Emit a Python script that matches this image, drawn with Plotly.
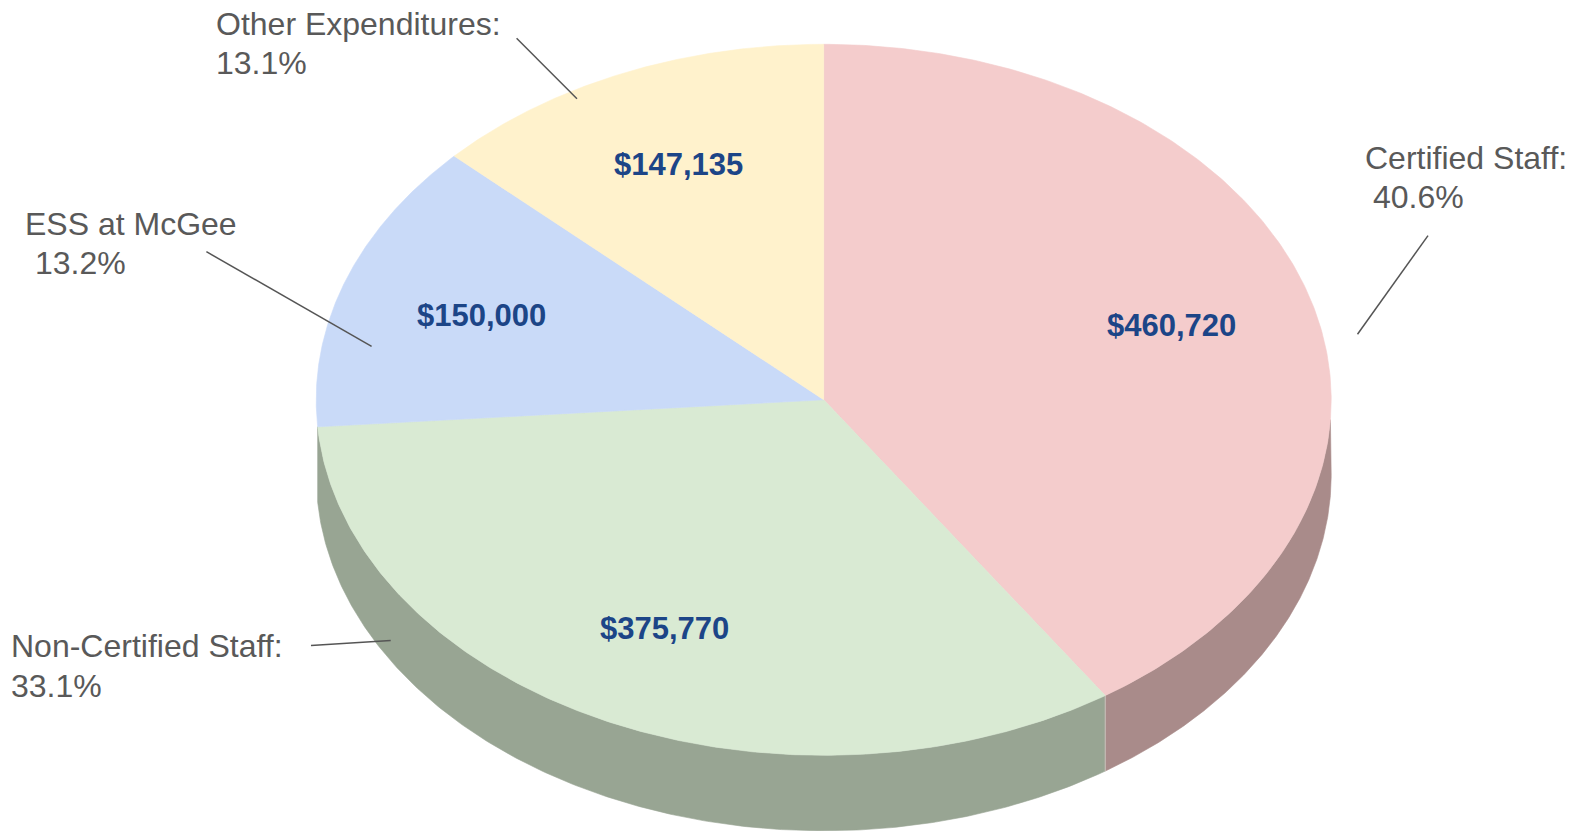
import numpy as np
import plotly.graph_objects as go

categories = ["Certified Staff", "Non-Certified Staff", "ESS at McGee", "Other Expenditures"]
values = [460720, 375770, 150000, 147135]
value_labels = ["$460,720", "$375,770", "$150,000", "$147,135"]
label_lines = [["Certified Staff:", " 40.6%"], ["Non-Certified Staff:", "33.1%"],
               ["ESS at McGee", " 13.2%"], ["Other Expenditures:", "13.1%"]]
top_colors = ["#F4CCCC", "#D9EAD3", "#C9DAF8", "#FFF2CC"]
side_colors = ["#A98B8A", "#98A593", None, None]

W, H = 1579, 831
CX, CY, RX, RY, DEPTH = 823.7, 399.8, 507.5, 355.5, 75.5
WALL_START = np.pi / 2 + 0.056
value_pos = [(1171, 325.5), (664, 628.5), (481.5, 315), (678, 164)]
label_pos = [[(1363, 158), (1371, 197)], [(8.5, 645.5), (8.5, 685.5)],
             [(22.5, 223.5), (32.5, 263)], [(214, 23.5), (214, 63)]]
leaders = [[(1428, 235.6), (1357.5, 334.3)], [(311, 645.5), (390.7, 640.5)],
           [(206.4, 251.7), (371.6, 346.4)], [(516.6, 38.3), (577, 98.7)]]

fracs = np.array(values) / sum(values)
edges = np.concatenate([[0], np.cumsum(fracs)]) * 2 * np.pi


def rim(a, b, dy=0.0, n=240):
    t = np.linspace(a, b, n)
    return CX + RX * np.sin(t), CY - RY * np.cos(t) + dy


fig = go.Figure()
for i, cat in enumerate(categories):
    if side_colors[i] is None:
        continue
    a, b = edges[i], edges[i + 1]
    lo, hi = max(a, WALL_START), min(b, 3 * np.pi / 2)
    x1, y1 = rim(lo, hi)
    x2, y2 = rim(hi, max(a, np.pi / 2), DEPTH)
    fig.add_trace(go.Scatter(x=np.r_[x1, x2, x1[0]], y=np.r_[y1, y2, y1[0]], mode="lines",
                             fill="toself", fillcolor=side_colors[i],
                             line=dict(width=0.6, color=side_colors[i]), hoverinfo="skip"))
# light seam on the wall between the first two slices
sx, sy = rim(edges[1], edges[1], n=1)
fig.add_trace(go.Scatter(x=[sx[0], sx[0]], y=[sy[0], sy[0] + DEPTH], mode="lines",
                         line=dict(width=1, color="#CDBFBB"), hoverinfo="skip"))
for i, cat in enumerate(categories):
    x, y = rim(edges[i], edges[i + 1])
    fig.add_trace(go.Scatter(x=np.r_[CX, x, CX], y=np.r_[CY, y, CY], mode="lines",
                             fill="toself", fillcolor=top_colors[i],
                             line=dict(width=0.6, color=top_colors[i]),
                             name=cat, text=value_labels[i], hoverinfo="name+text"))
for seg in leaders:
    fig.add_trace(go.Scatter(x=[seg[0][0], seg[1][0]], y=[seg[0][1], seg[1][1]], mode="lines",
                             line=dict(width=1.5, color="#555555"), hoverinfo="skip"))

ann = []
for i in range(4):
    ann.append(dict(x=value_pos[i][0], y=value_pos[i][1], text=f"<b>{value_labels[i]}</b>",
                    showarrow=False, xanchor="center", yanchor="middle",
                    font=dict(family="Liberation Sans", size=31, color="#1C4587")))
    for line, (lx, ly) in zip(label_lines[i], label_pos[i]):
        ann.append(dict(x=lx, y=ly, text=line.strip(), showarrow=False, xanchor="left", yanchor="middle",
                        font=dict(family="Liberation Sans", size=32, color="#595959")))

fig.update_layout(
    width=W, height=H, margin=dict(l=0, r=0, t=0, b=0), showlegend=False,
    plot_bgcolor="white", paper_bgcolor="white", annotations=ann,
    xaxis=dict(range=[0, W], visible=False, fixedrange=True),
    yaxis=dict(range=[H, 0], visible=False, fixedrange=True),
)
fig.write_html("out.html", config=dict(displayModeBar=False),
               post_script="document.body.style.margin='0';document.body.style.overflow='hidden';")
